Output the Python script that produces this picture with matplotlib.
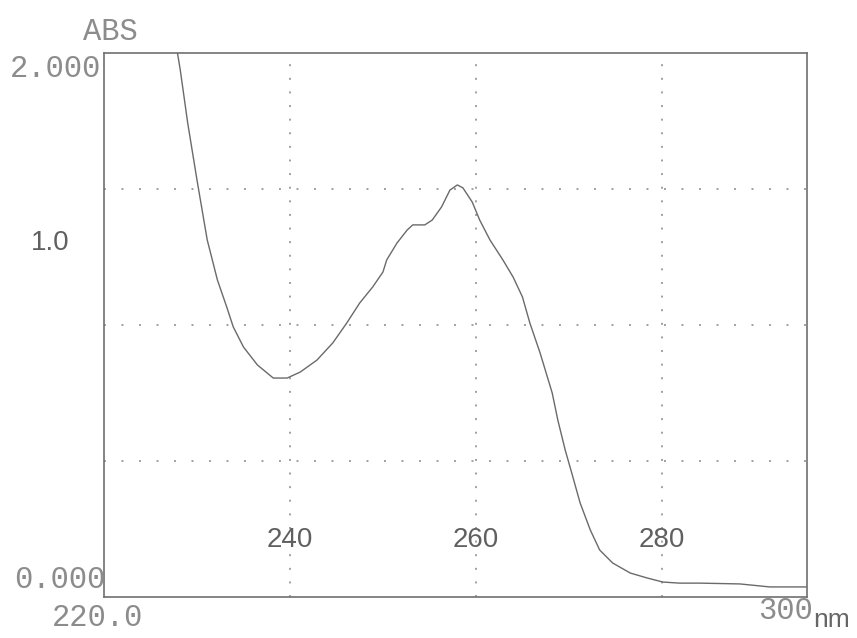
import matplotlib
matplotlib.use("Agg")
import matplotlib.pyplot as plt

# UV absorption spectrum (wavelength in nm, absorbance)
wavelength = [227.9, 228.2, 229.0, 230.0, 231.1, 232.2, 233.2, 233.9, 235.0, 236.5,
              238.2, 239.7, 241.1, 242.9, 244.6, 246.1, 247.5, 248.9, 250.0, 250.4,
              251.5, 252.6, 253.2, 254.5, 255.3, 256.3, 257.2, 258.0, 258.6, 259.6,
              260.4, 261.5, 262.9, 264.0, 265.0, 265.8, 266.9, 268.2, 268.8, 269.6,
              270.3, 271.2, 272.3, 273.3, 274.7, 276.6, 278.4, 280.1, 281.9, 284.1,
              288.4, 291.6, 295.6]
absorbance = [2.000, 1.938, 1.743, 1.533, 1.313, 1.165, 1.066, 0.993, 0.919, 0.853,
              0.805, 0.805, 0.827, 0.871, 0.934, 1.007, 1.081, 1.140, 1.195, 1.239,
              1.301, 1.349, 1.368, 1.368, 1.386, 1.434, 1.496, 1.515, 1.504, 1.452,
              1.386, 1.313, 1.239, 1.176, 1.103, 1.007, 0.897, 0.750, 0.651, 0.540,
              0.456, 0.346, 0.246, 0.173, 0.125, 0.088, 0.070, 0.055, 0.051, 0.051,
              0.048, 0.037, 0.037]

x_grid = [240, 260, 280]
y_grid = [0.5, 1.0, 1.5]
x_tick_labels = ["240", "260", "280"]

W, H = 857, 638
fig = plt.figure(figsize=(W / 100, H / 100), dpi=100)
ax = fig.add_axes([104 / W, 1 - 597 / H, (807 - 104) / W, (597 - 53) / H])
ax.set_xlim(220, 295.6)
ax.set_ylim(0, 2.0)

for x in x_grid:
    ax.axvline(x, color="#a0a0a0", lw=1.4, ls=(0, (1, 6)))
for y in y_grid:
    ax.axhline(y, color="#a0a0a0", lw=1.4, ls=(0, (1, 8)))

ax.plot(wavelength, absorbance, color="#6a6a6a", lw=1.0, clip_on=True)

ax.set_xticks([])
ax.set_yticks([])
for s in ax.spines.values():
    s.set_color("#707070")
    s.set_linewidth(1.2)

# wavelength labels printed inside the frame
for x, lab in zip(x_grid, x_tick_labels):
    ax.text(x, (597 - 540) / 272, lab, ha="center", va="center",
            fontsize=20, family="Liberation Sans", color="#606060")

mono = dict(family="Liberation Mono", color="#8c8c8c", ha="center", va="center")


def ftext(px, py, s, **kw):
    fig.text(px / W, 1 - py / H, s, **kw)


ftext(110, 32, "ABS", fontsize=22, **mono)
ftext(56, 69, "2.000", fontsize=22, **mono)
ftext(60, 580, "0.000", fontsize=22, **mono)
ftext(97, 618, "220.0", fontsize=22, **mono)
ftext(785, 611, "300", fontsize=22, **mono)
ftext(832, 620, "nm", fontsize=19, family="Liberation Sans", color="#666666",
      ha="center", va="center")
ftext(50, 243, "1.0", fontsize=20, family="Liberation Sans", color="#606060",
      ha="center", va="center")

fig.savefig("out.png", dpi=100, facecolor="white")
